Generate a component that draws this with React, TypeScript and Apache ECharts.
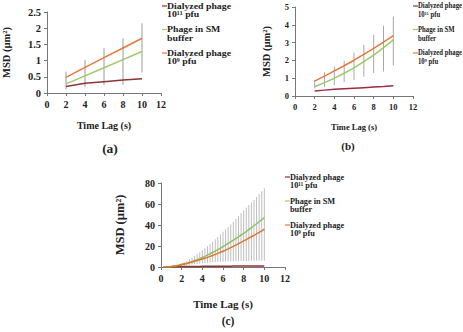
import React, { useEffect, useRef } from "react";
import * as echarts from "echarts";

// ---------- data ----------
const seriesNames = ["Dialyzed phage\n10¹¹ pfu", "Phage in SM\nbuffer", "Dialyzed phage\n10⁹ pfu"];
const seriesColors = ["#8E3434", "#9ACB68", "#E8783A"];

// panel (a)
const xA = [2, 4, 6, 8, 10];
const aRed = [0.2, 0.3, 0.35, 0.4, 0.44];
const aGreen = [0.28, 0.53, 0.78, 1.03, 1.28];
const aOrange = [0.48, 0.79, 1.09, 1.39, 1.69];
const aErrLow = [0.11, 0.19, 0.25, 0.25, 0.63];
const aErrHigh = [0.66, 1.02, 1.38, 1.69, 2.15];

// panel (b)
const xB = [2, 3, 4, 5, 6, 7, 8, 9, 10];
const bRed = [0.28, 0.33, 0.38, 0.41, 0.44, 0.47, 0.5, 0.53, 0.57];
const bGreen = [0.52, 0.75, 1.0, 1.28, 1.58, 1.93, 2.3, 2.72, 3.15];
const bOrange = [0.84, 1.12, 1.41, 1.7, 2.01, 2.34, 2.68, 3.03, 3.39];
const bErrLow = [0.43, 0.52, 0.62, 0.77, 0.9, 1.09, 1.29, 1.38, 1.71];
const bErrHigh = [0.9, 1.33, 1.65, 1.97, 2.44, 2.87, 3.44, 3.95, 4.46];

// panel (c)
const xC = [0.25, 0.5, 0.75, 1, 1.25, 1.5, 1.75, 2, 2.25, 2.5, 2.75, 3, 3.25, 3.5, 3.75, 4, 4.25, 4.5, 4.75, 5,
  5.25, 5.5, 5.75, 6, 6.25, 6.5, 6.75, 7, 7.25, 7.5, 7.75, 8, 8.25, 8.5, 8.75, 9, 9.25, 9.5, 9.75, 10];
const cRed = [0.1, 0.15, 0.2, 0.25, 0.3, 0.33, 0.36, 0.4, 0.42, 0.45, 0.48, 0.5, 0.52, 0.55, 0.57, 0.6, 0.62, 0.64, 0.66, 0.68,
  0.7, 0.72, 0.74, 0.76, 0.78, 0.8, 0.82, 0.84, 0.85, 0.87, 0.88, 0.9, 0.91, 0.93, 0.94, 0.95, 0.96, 0.98, 0.99, 1.0];
const cGreen = [0.05, 0.15, 0.3, 0.55, 0.85, 1.25, 1.75, 2.3, 2.95, 3.6, 4.4, 5.2, 6.1, 7.0, 8.0, 9.0, 10.1, 11.3, 12.5, 13.8,
  15.1, 16.5, 17.9, 19.4, 20.9, 22.4, 24.0, 25.5, 27.1, 28.7, 30.4, 32.0, 33.8, 35.6, 37.4, 39.3, 41.2, 43.1, 45.0, 47.0];
const cOrange = [0.05, 0.15, 0.3, 0.55, 0.85, 1.25, 1.75, 2.3, 2.85, 3.4, 4.05, 4.7, 5.4, 6.1, 6.85, 7.6, 8.4, 9.2, 10.1, 11.0,
  12.0, 13.0, 14.0, 15.0, 16.1, 17.2, 18.4, 19.6, 20.9, 22.2, 23.5, 24.8, 26.1, 27.5, 28.8, 30.2, 31.6, 33.0, 34.5, 36.0];
const cErrLow = [0.05, 0.1, 0.2, 0.3, 0.5, 0.7, 0.9, 1.1, 1.4, 1.7, 2.0, 2.3, 2.6, 2.9, 3.2, 3.5, 3.8, 4.0, 4.2, 4.4,
  4.6, 4.8, 5.0, 5.1, 5.2, 5.3, 5.4, 5.5, 5.6, 5.6, 5.7, 5.7, 5.8, 5.8, 5.9, 5.9, 6.0, 6.0, 6.0, 6.0];
const cErrHigh = [0.1, 0.25, 0.5, 0.8, 1.2, 1.8, 2.6, 3.5, 4.6, 5.9, 7.4, 9.0, 10.6, 12.3, 14.1, 16.0, 17.9, 19.8, 21.9, 24.0,
  26.3, 28.6, 31.0, 33.6, 35.9, 38.2, 40.6, 43.0, 45.7, 48.4, 51.2, 54.0, 56.5, 59.0, 61.5, 64.0, 66.7, 69.4, 72.2, 75.0];

const panelLabels = ["(a)", "(b)", "(c)"];
const xTitle = "Time Lag (s)";
const yTitle = "MSD (µm²)";

// ---------- helpers ----------
const FONT = "'Liberation Serif', 'Times New Roman', serif";
const TXT = "#222";
const AX = "#777";

function pairs(xs: number[], ys: number[]) {
  return xs.map((x, i) => [x, ys[i]]);
}
function triples(xs: number[], lo: number[], hi: number[]) {
  return xs.map((x, i) => [x, lo[i], hi[i]]);
}

function errSeries(idx: number, data: number[][], color: string) {
  return {
    type: "custom",
    xAxisIndex: idx,
    yAxisIndex: idx,
    data,
    z: 1,
    encode: { x: 0, y: [1, 2] },
    renderItem: (_p: any, api: any) => {
      const a = api.coord([api.value(0), api.value(1)]);
      const b = api.coord([api.value(0), api.value(2)]);
      return {
        type: "line",
        shape: { x1: a[0], y1: a[1], x2: b[0], y2: b[1] },
        style: { stroke: color, lineWidth: 1 },
      };
    },
  };
}

function lineSeries(idx: number, name: string, color: string, data: number[][]) {
  return {
    type: "line",
    name,
    xAxisIndex: idx,
    yAxisIndex: idx,
    data,
    showSymbol: false,
    z: 3,
    lineStyle: { color, width: 1.5 },
    itemStyle: { color },
  };
}

function xAxis(idx: number, fs: number, gap: number, tfs: number) {
  return {
    type: "value",
    gridIndex: idx,
    min: 0,
    max: 12,
    interval: 2,
    name: xTitle,
    nameLocation: "middle",
    nameGap: gap,
    nameTextStyle: { fontFamily: FONT, fontWeight: "bold", fontSize: tfs, color: TXT },
    axisLine: { show: true, lineStyle: { color: AX, width: 1 } },
    axisTick: { show: true, length: 3, lineStyle: { color: AX } },
    axisLabel: { fontFamily: FONT, fontWeight: "bold", fontSize: fs, color: TXT, margin: 6 },
    splitLine: { show: false },
  };
}

function yAxis(idx: number, max: number, interval: number, fs: number, gap: number, tfs: number) {
  return {
    type: "value",
    gridIndex: idx,
    min: 0,
    max,
    interval,
    name: yTitle,
    nameLocation: "middle",
    nameGap: gap,
    nameRotate: 90,
    nameTextStyle: { fontFamily: FONT, fontWeight: "bold", fontSize: tfs, color: TXT },
    axisLine: { show: true, lineStyle: { color: AX, width: 1 } },
    axisTick: { show: true, length: 3, lineStyle: { color: AX } },
    axisLabel: { fontFamily: FONT, fontWeight: "bold", fontSize: fs, color: TXT, margin: 6 },
    splitLine: { show: false },
  };
}

function legendGraphics(x: number, y0: number, step: number, fs: number, lh: number, sx: number) {
  const els: any[] = [];
  seriesNames.forEach((n, i) => {
    const y = y0 + i * step;
    els.push({
      type: "line",
      shape: { x1: x, y1: y, x2: x + 5, y2: y },
      style: { stroke: seriesColors[i], lineWidth: 1.2 },
    });
    els.push({
      type: "text",
      x: x + 5,
      y: y - lh / 2,
      scaleX: sx,
      style: {
        text: n,
        fontFamily: FONT,
        fontWeight: "bold",
        fontSize: fs,
        lineHeight: lh,
        fill: TXT,
        textVerticalAlign: "top",
      },
    });
  });
  return els;
}

function label(text: string, x: number, y: number, fs: number) {
  return {
    type: "text",
    x,
    y,
    style: { text, fontFamily: FONT, fontWeight: "bold", fontSize: fs, fill: TXT, textAlign: "center", textVerticalAlign: "middle" },
  };
}

export default function App() {
  const ref = useRef<HTMLDivElement>(null);
  useEffect(() => {
    if (!ref.current) return;
    const chart = echarts.init(ref.current, undefined, { renderer: "svg" });
    const option: any = {
      animation: false,
      backgroundColor: "#fff",
      grid: [
        { left: 45, top: 12, width: 116, height: 81 },
        { left: 295, top: 7, width: 118, height: 89 },
        { left: 161, top: 183, width: 124, height: 84 },
      ],
      xAxis: [xAxis(0, 10, 27, 10), xAxis(1, 8.5, 26, 8.5), xAxis(2, 10, 31, 11)],
      yAxis: [yAxis(0, 2.5, 0.5, 10.5, 35, 10.5), yAxis(1, 5, 1, 8.5, 23, 10.5), yAxis(2, 80, 20, 10, 35, 12.5)],
      series: [
        errSeries(0, triples(xA, aErrLow, aErrHigh), "#9a9a9a"),
        lineSeries(0, seriesNames[0], seriesColors[0], pairs(xA, aRed)),
        lineSeries(0, seriesNames[1], seriesColors[1], pairs(xA, aGreen)),
        lineSeries(0, seriesNames[2], seriesColors[2], pairs(xA, aOrange)),
        errSeries(1, triples(xB, bErrLow, bErrHigh), "#a8a8a8"),
        lineSeries(1, seriesNames[0], "#9B2D44", pairs(xB, bRed)),
        lineSeries(1, seriesNames[1], seriesColors[1], pairs(xB, bGreen)),
        lineSeries(1, seriesNames[2], seriesColors[2], pairs(xB, bOrange)),
        errSeries(2, triples(xC, cErrLow, cErrHigh), "#bdbdbd"),
        lineSeries(2, seriesNames[0], seriesColors[0], pairs(xC, cRed)),
        lineSeries(2, seriesNames[1], "#8DC060", pairs(xC, cGreen)),
        lineSeries(2, seriesNames[2], "#D9792F", pairs(xC, cOrange)),
      ],
      graphic: [
        ...legendGraphics(162, 6, 23.5, 8.6, 8.5, 1.14),
        ...legendGraphics(413, 6, 23.5, 7.5, 9, 0.9),
        ...legendGraphics(285, 177, 24, 8.3, 8.5, 1),
        label(panelLabels[0], 110, 148, 13.5),
        label(panelLabels[1], 348, 146, 11),
        label(panelLabels[2], 228, 321, 11.5),
      ],
    };
    chart.setOption(option);
    return () => chart.dispose();
  }, []);
  return (
    <div
      ref={ref}
      style={{ width: 463, height: 332, position: "absolute", left: 0, top: 0, background: "#fff" }}
    />
  );
}
